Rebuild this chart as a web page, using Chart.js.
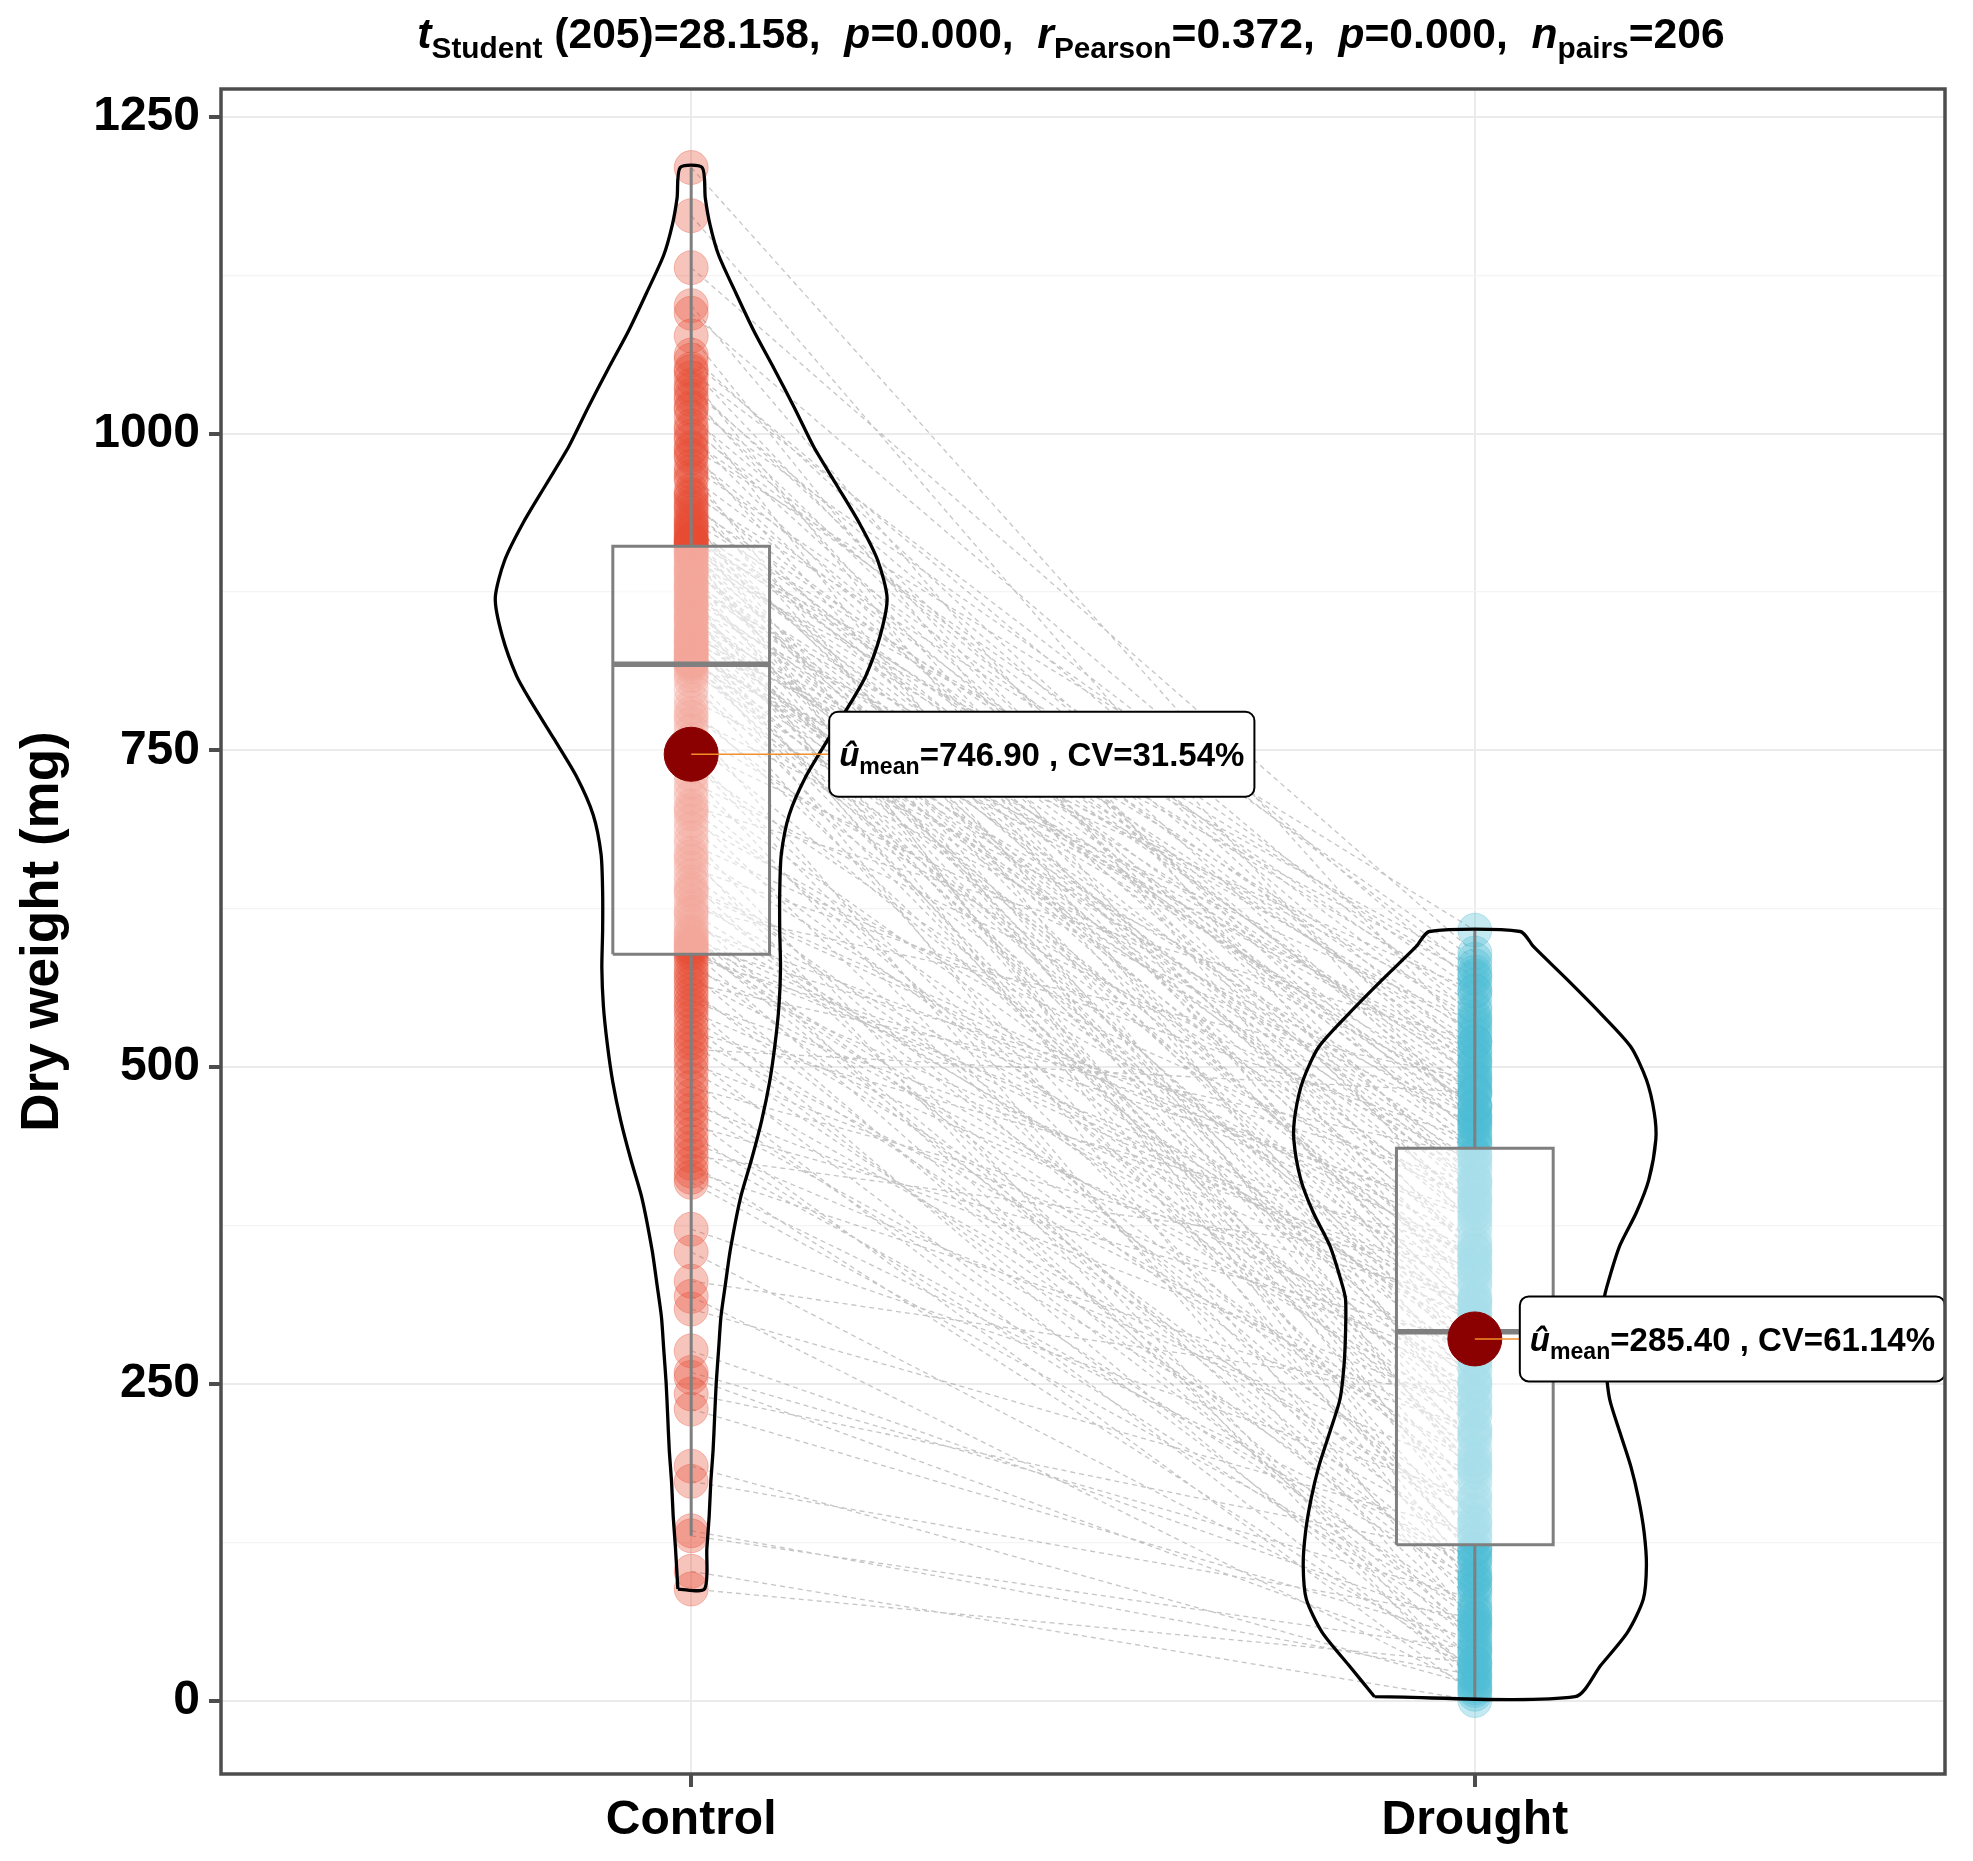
<!DOCTYPE html>
<html>
<head>
<meta charset="utf-8">
<title>Dry weight: Control vs Drought</title>
<script src="https://cdn.jsdelivr.net/npm/chart.js@4.4.1/dist/chart.umd.min.js"></script>
<style>
  html, body { margin: 0; padding: 0; background: #ffffff; }
  #pairedChart { display: block; }
</style>
</head>
<body>
<canvas id="pairedChart" width="1973" height="1861"></canvas>
<script>
// ---- data ----
const groups = ['Control', 'Drought'];
const yTicks = [0, 250, 500, 750, 1000, 1250];
const yMinorTicks = [125, 375, 625, 875, 1125];

// paired dry weights (mg), same index = same plant
const controlWeight = [
  1210, 1172, 1131, 1101, 1095, 1077, 1062, 1058, 1051, 1049,
  1044, 1038, 1035, 1030, 1027, 1021, 1019, 1013, 1006, 1003,
  998, 995, 987, 983, 981, 974, 970, 966, 963, 955,
  952, 950, 946, 943, 941, 937, 934, 931, 929, 927,
  925, 923, 921, 919, 917, 916, 915, 914, 913, 912, 989,
  910, 908, 905, 903, 901, 899, 896, 894, 891, 889,
  887, 884, 882, 879, 877, 875, 872, 870, 868, 866,
  863, 861, 858, 856, 853, 851, 849, 846, 844, 842,
  839, 837, 835, 833, 831, 829, 827, 826, 824, 823,
  821, 820, 819, 818, 906, 893, 880, 865, 855, 841, 836, 828,
  816, 812, 805, 798, 790, 784, 779, 771, 765, 758,
  752, 745, 738, 731, 725, 719, 713, 706, 700, 694,
  688, 681, 676, 669, 662, 657, 651, 646, 641, 636,
  630, 625, 620, 615, 611, 607, 603, 600, 597, 594,
  592, 590, 809, 776, 742, 703, 666, 639, 622, 605, 598, 595,
  587, 583, 578, 574, 570, 566, 561, 557, 552, 548,
  544, 539, 533, 528, 523, 519, 514, 508, 503, 497,
  490, 484, 477, 471, 466, 460, 454, 447, 441, 436,
  430, 424, 418, 413, 409, 372, 354, 331, 319, 309,
  276, 259, 255, 242, 230, 185, 173, 134, 130, 102, 88
];
const droughtWeight = [
  520, 455, 590, 372, 565, 310, 488, 540, 402, 575,
  268, 462, 510, 350, 430, 585, 215, 498, 445, 532,
  385, 560, 290, 470, 412, 548, 175, 505, 338, 478,
  570, 250, 440, 525, 398, 485, 142, 555, 325, 468,
  515, 360, 492, 198, 538, 420, 580, 305, 458, 95, 608,
  448, 305, 520, 182, 410, 572, 268, 390, 495, 140,
  355, 462, 230, 528, 318, 405, 88, 470, 345, 252,
  545, 380, 165, 438, 295, 505, 212, 360, 482, 128,
  425, 330, 560, 275, 395, 60, 452, 238, 512, 340,
  190, 418, 285, 535, 110, 375, 468, 225, 300, 502, 155, 432,
  262, 410, 118, 335, 480, 205, 298, 42, 392, 250,
  455, 160, 318, 75, 425, 280, 195, 520, 105, 348,
  232, 15, 395, 288, 135, 442, 210, 65, 365, 172,
  298, 490, 30, 255, 380, 148, 315, 90, 408, 225,
  52, 340, 185, 460, 120, 270, 8, 355, 242, 98, 312, 185,
  385, 120, 302, 45, 248, 430, 85, 190, 330, 22,
  275, 140, 62, 355, 208, 100, 480, 38, 262, 150,
  18, 315, 72, 230, 128, 5, 282, 55, 180, 95,
  345, 25, 215, 112, 70, 160, 35, 240, 10, 132,
  58, 80, 28, 115, 48, 12, 65, 20, 40, 0, 30
];

// boxplot statistics per group
const boxQ1 = [589, 123];
const boxMedian = [818, 291];
const boxQ3 = [911, 436];
const whiskerLow = [130, 0];
const whiskerHigh = [1210, 608];

// centrality labels
const meanWeight = [746.90, 285.40];
const cvPercent = [31.54, 61.14];

// violin outlines: heights (mg) and half widths (x-axis units)
const controlViolinY = [88, 120, 146, 172, 198, 225, 251, 277, 303, 330, 356, 397, 427, 458, 488, 518, 548, 578, 608, 638,
  668, 699, 729, 759, 789, 809, 840, 870, 900, 930, 960, 990, 1020, 1051, 1081, 1111, 1141, 1165, 1186, 1210];
const controlViolinHalf = [0.017, 0.020, 0.023, 0.025, 0.028, 0.030, 0.032, 0.035, 0.038, 0.044, 0.050, 0.063, 0.077, 0.090, 0.100, 0.107, 0.112, 0.114, 0.113, 0.113,
  0.115, 0.125, 0.146, 0.175, 0.205, 0.223, 0.241, 0.250, 0.238, 0.214, 0.185, 0.156, 0.132, 0.106, 0.080, 0.057, 0.035, 0.024, 0.018, 0.014];
const droughtViolinY = [3, 28, 54, 80, 107, 133, 159, 185, 212, 238, 264, 290, 317, 332, 359, 385, 411, 443, 464, 490, 516, 542, 569, 595, 607];
const droughtViolinHalf = [0.128, 0.161, 0.195, 0.215, 0.219, 0.216, 0.209, 0.199, 0.185, 0.172, 0.167, 0.165, 0.165, 0.171, 0.185, 0.206, 0.222, 0.231, 0.229, 0.219, 0.199, 0.161, 0.118, 0.075, 0.058];

// ---- styling ----
const FONT = '"Liberation Sans", Arial, Helvetica, sans-serif';
Chart.defaults.font.family = FONT;
const boxHalfWidth = 0.1;
const pointColors = ['rgba(230, 75, 53, 0.33)', 'rgba(77, 187, 213, 0.33)'];
const boxLine = '#7f7f7f';

function violinPath(center, ys, halves) {
  const left = ys.map((y, i) => ({ x: center - halves[i], y: y }));
  const right = ys.map((y, i) => ({ x: center + halves[i], y: y })).reverse();
  return left.concat(right, [left[0]]);
}

function boxPath(center, q1, q3) {
  return [
    { x: center - boxHalfWidth, y: q1 }, { x: center + boxHalfWidth, y: q1 },
    { x: center + boxHalfWidth, y: q3 }, { x: center - boxHalfWidth, y: q3 },
    { x: center - boxHalfWidth, y: q1 }
  ];
}

// pair lines as one broken path
const pairPath = [];
controlWeight.forEach((c, i) => {
  pairPath.push({ x: 1, y: c }, { x: 2, y: droughtWeight[i] }, { x: 2, y: null });
});

const datasets = [
  {
    type: 'line', label: 'pairs', data: pairPath, order: 9,
    borderColor: 'rgba(150, 150, 150, 0.55)', borderWidth: 1.3, borderDash: [5, 4],
    pointRadius: 0, spanGaps: false, fill: false, tension: 0
  }
];

groups.forEach((g, i) => {
  const c = i + 1;
  const values = i === 0 ? controlWeight : droughtWeight;
  datasets.push({
    type: 'scatter', label: g, order: 8,
    data: values.map(v => ({ x: c, y: v })),
    pointRadius: 17, pointBackgroundColor: pointColors[i],
    pointBorderColor: pointColors[i], pointBorderWidth: 1
  });
  datasets.push({
    type: 'line', label: g + ' box', order: 7, data: boxPath(c, boxQ1[i], boxQ3[i]),
    borderColor: boxLine, borderWidth: 3, backgroundColor: 'rgba(255, 255, 255, 0.5)',
    fill: 'shape', pointRadius: 0, tension: 0
  });
  datasets.push({
    type: 'line', label: g + ' whiskers', order: 7,
    data: [{ x: c, y: boxQ3[i] }, { x: c, y: whiskerHigh[i] }, { x: c, y: null },
           { x: c, y: boxQ1[i] }, { x: c, y: whiskerLow[i] }],
    borderColor: boxLine, borderWidth: 3, pointRadius: 0, spanGaps: false, fill: false
  });
  datasets.push({
    type: 'line', label: g + ' median', order: 6,
    data: [{ x: c - boxHalfWidth, y: boxMedian[i] }, { x: c + boxHalfWidth, y: boxMedian[i] }],
    borderColor: boxLine, borderWidth: 5.5, pointRadius: 0, fill: false
  });
  datasets.push({
    type: 'line', label: g + ' violin', order: 5,
    data: i === 0 ? violinPath(c, controlViolinY, controlViolinHalf) : violinPath(c, droughtViolinY, droughtViolinHalf),
    borderColor: '#000000', borderWidth: 3.3, pointRadius: 0, fill: false, tension: 0.25
  });
});

datasets.push({
  type: 'scatter', label: 'mean', order: 1,
  data: meanWeight.map((m, i) => ({ x: i + 1, y: m })),
  pointRadius: 27, pointBackgroundColor: '#8b0000', pointBorderColor: '#8b0000', pointBorderWidth: 1
});

// rich text: runs of {t, i (italic), sub (subscript)}
function runFont(run, size) {
  const s = run.sub ? size * 0.7 : size;
  return (run.i ? 'italic ' : '') + 'bold ' + s.toFixed(1) + 'px ' + FONT;
}
function measureRuns(ctx, runs, size) {
  return runs.reduce((w, r) => { ctx.font = runFont(r, size); return w + ctx.measureText(r.t).width; }, 0);
}
function drawRuns(ctx, runs, x, baseline, size) {
  let cx = x;
  ctx.textAlign = 'left';
  ctx.textBaseline = 'alphabetic';
  runs.forEach(r => {
    ctx.font = runFont(r, size);
    ctx.fillText(r.t, cx, baseline + (r.sub ? size * 0.24 : 0));
    cx += ctx.measureText(r.t).width;
  });
}

const titleRuns = [
  { t: 't', i: true }, { t: 'Student', sub: true }, { t: ' (205)=28.158,  ' },
  { t: 'p', i: true }, { t: '=0.000,  ' },
  { t: 'r', i: true }, { t: 'Pearson', sub: true }, { t: '=0.372,  ' },
  { t: 'p', i: true }, { t: '=0.000,  ' },
  { t: 'n', i: true }, { t: 'pairs', sub: true }, { t: '=206' }
];
const labelGap = [138, 45];

const annotate = {
  id: 'annotate',
  afterDatasetsDraw(chart) {
    const { ctx, chartArea, scales: { x, y } } = chart;
    ctx.save();
    meanWeight.forEach((m, i) => {
      const px = x.getPixelForValue(i + 1);
      const py = y.getPixelForValue(m);
      const runs = [{ t: 'û', i: true }, { t: 'mean', sub: true },
        { t: '=' + m.toFixed(2) + ' , CV=' + cvPercent[i].toFixed(2) + '%' }];
      const tw = measureRuns(ctx, runs, 33);
      const bx = px + labelGap[i], bw = tw + 20, bh = 85, by = py - bh / 2;
      ctx.strokeStyle = '#f28e2b';
      ctx.lineWidth = 1.6;
      ctx.beginPath(); ctx.moveTo(px, py); ctx.lineTo(bx, py); ctx.stroke();
      ctx.beginPath();
      ctx.roundRect(bx, by, bw, bh, 9);
      ctx.fillStyle = '#ffffff'; ctx.fill();
      ctx.strokeStyle = '#000000'; ctx.lineWidth = 2; ctx.stroke();
      ctx.fillStyle = '#000000';
      drawRuns(ctx, runs, bx + 10, py + 12, 33);
    });
    // panel border
    ctx.strokeStyle = '#4d4d4d';
    ctx.lineWidth = 3.5;
    ctx.strokeRect(chartArea.left, chartArea.top, chartArea.right - chartArea.left, chartArea.bottom - chartArea.top);
    // title
    ctx.fillStyle = '#000000';
    const tw = measureRuns(ctx, titleRuns, 42.6);
    drawRuns(ctx, titleRuns, 1071 - tw / 2, 48, 42.6);
    ctx.restore();
  }
};

const isMajor = v => yTicks.includes(v);

new Chart(document.getElementById('pairedChart'), {
  type: 'scatter',
  data: { datasets: datasets },
  plugins: [annotate],
  options: {
    responsive: false,
    devicePixelRatio: 1,
    animation: false,
    events: [],
    layout: { padding: { top: 89, right: 19, bottom: 0, left: 0 } },
    plugins: { legend: { display: false }, tooltip: { enabled: false } },
    scales: {
      x: {
        type: 'linear', min: 0.4, max: 2.6,
        afterBuildTicks: s => { s.ticks = groups.map((g, i) => ({ value: i + 1 })); },
        afterFit: s => { s.height = 87; },
        ticks: {
          callback: (v, i) => groups[i], autoSkip: false, maxRotation: 0,
          font: { size: 48, weight: 'bold' }, color: '#000000', padding: 5
        },
        grid: { color: '#ebebeb', lineWidth: 2, tickLength: 13, tickColor: '#4d4d4d', tickWidth: 4 },
        border: { display: false }
      },
      y: {
        type: 'linear', min: -58, max: 1272,
        afterBuildTicks: s => {
          s.ticks = yMinorTicks.concat(yTicks).sort((a, b) => a - b).map(v => ({ value: v }));
        },
        afterFit: s => { s.width = 221; },
        ticks: {
          callback: v => (isMajor(v) ? String(v) : ''), autoSkip: false,
          font: { size: 48, weight: 'bold' }, color: '#000000', padding: 9
        },
        grid: {
          color: c => (isMajor(c.tick.value) ? '#ebebeb' : '#f4f4f4'),
          lineWidth: c => (isMajor(c.tick.value) ? 2 : 1.2),
          tickColor: c => (isMajor(c.tick.value) ? '#4d4d4d' : 'rgba(0,0,0,0)'),
          tickLength: 12, tickWidth: 4
        },
        border: { display: false },
        title: {
          display: true, text: 'Dry weight (mg)', color: '#000000',
          font: { size: 53, weight: 'bold' }, padding: { top: 12, bottom: 0 }
        }
      }
    }
  }
});
</script>
</body>
</html>
